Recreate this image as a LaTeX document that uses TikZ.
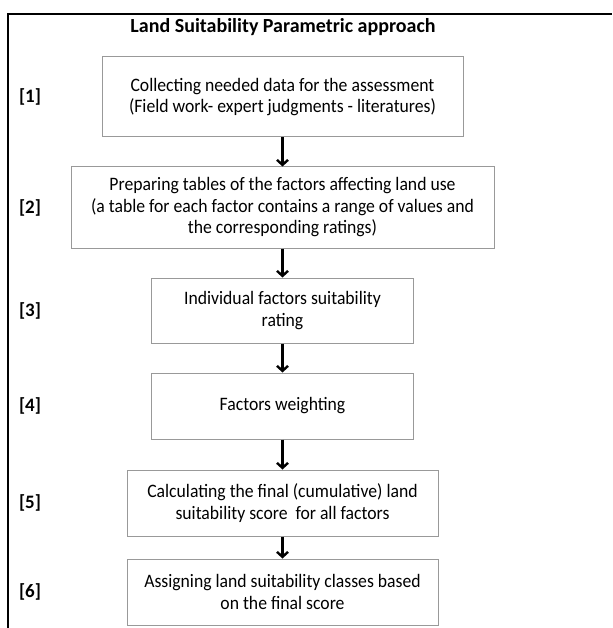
\documentclass[tikz,border=0pt]{standalone}
\usepackage{fontspec}
\setmainfont{Carlito}
\newfontfamily\boxfont[FakeStretch=0.93]{Carlito}
\usetikzlibrary{positioning,arrows.meta}

\tikzset{
  stepbox/.style={draw=gray!80, line width=1pt, align=center, inner sep=2pt,
    font=\boxfont\fontsize{19}{21.5}\selectfont},
  numlabel/.style={font=\fontsize{19}{20}\selectfont\bfseries},
  flow/.style={-{Straight Barb[length=5pt,width=11pt]}, line width=2.4pt}
}

\begin{document}
\begin{tikzpicture}[x=1pt, y=1pt, node distance=29pt]
    \useasboundingbox (0,0) rectangle (612,-628);
    % Frame
    \draw[line width=2.6pt] (8,-628) -- (8,-14) -- (612,-14);
    \node[font=\fontsize{20}{22}\selectfont\bfseries] (title) at (283,-27) {Land Suitability Parametric approach};

    % Steps
    \node[stepbox, minimum width=361pt, minimum height=80pt] (box1) at (282.5,-97)
        {Collecting needed data for the assessment\\(Field work- expert judgments - literatures)};
    \node[stepbox, minimum width=423pt, minimum height=81pt, below=of box1] (box2)
        {Preparing tables of the factors affecting land use\\(a table for each factor contains a range of values and\\the corresponding ratings)};
    \node[stepbox, minimum width=262pt, minimum height=65pt, below=of box2] (box3)
        {Individual factors suitability\\rating};
    \node[stepbox, minimum width=262pt, minimum height=66pt, below=of box3] (box4)
        {Factors weighting};
    \node[stepbox, minimum width=311pt, minimum height=66pt, below=30pt of box4] (box5)
        {Calculating the final (cumulative) land\\suitability score\ \ for all factors};
    \node[stepbox, minimum width=311pt, minimum height=66pt, below=22pt of box5] (box6)
        {Assigning land suitability classes based\\on the final score};

    % Numbers
    \coordinate (lx) at (30,0);
    \foreach \i in {1,...,6}
        \node[numlabel] (lab\i) at (lx |- box\i) {[\i]};

    % Arrows
    \foreach \a/\b in {1/2,2/3,3/4,4/5,5/6}
        \draw[flow] (box\a) -- (box\b);
\end{tikzpicture}
\end{document}
